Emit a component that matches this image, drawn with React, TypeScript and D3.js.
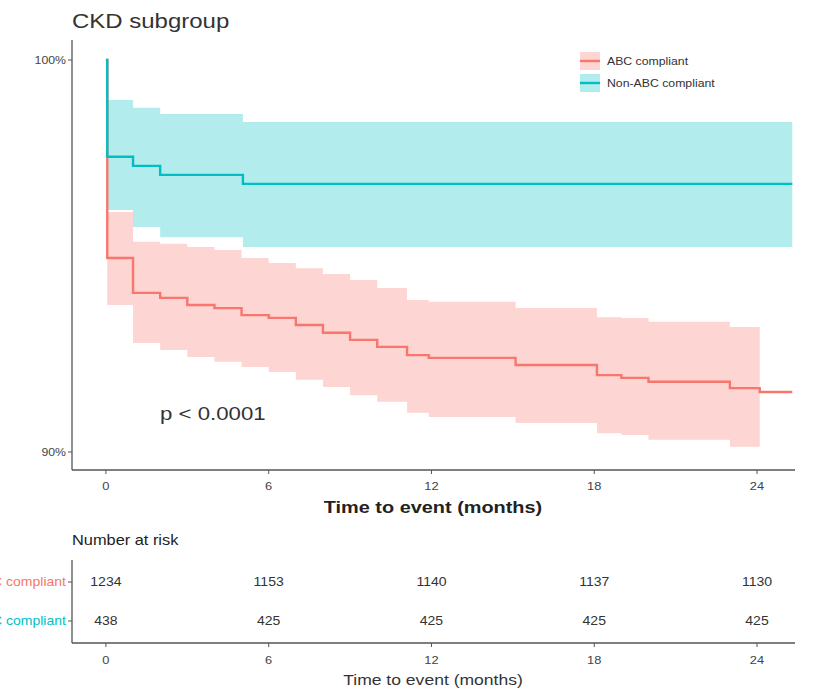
import React, { useEffect, useRef } from "react";
import * as d3 from "d3";

// strata
const groups = ["ABC compliant", "Non-ABC compliant"];
const colors = ["#F8766D", "#00BFC4"];

// axis ticks
const timeTicks = [0, 6, 12, 18, 24];
const survTicks = [90, 100];
const survTickLabels = ["90%", "100%"];

// ABC compliant curve (survival %, step after)
const abcTimes = [0, 0.05, 1, 2, 3, 4, 5, 6, 7, 8, 9, 10, 11.1, 11.9, 15.1, 18.1, 19, 20, 23, 24.1];
const abcSurv = [100, 94.95, 94.06, 93.93, 93.75, 93.67, 93.49, 93.42, 93.24, 93.04, 92.86, 92.68, 92.47, 92.4, 92.22, 91.96, 91.89, 91.79, 91.63, 91.53];
const abcUpper = [100, 96.12, 95.36, 95.31, 95.23, 95.15, 94.95, 94.82, 94.69, 94.54, 94.39, 94.18, 93.88, 93.83, 93.67, 93.44, 93.42, 93.32, 93.19, NaN];
const abcLower = [100, 93.75, 92.78, 92.6, 92.42, 92.3, 92.17, 92.04, 91.84, 91.66, 91.45, 91.28, 91.0, 90.89, 90.74, 90.48, 90.43, 90.31, 90.13, NaN];

// Non-ABC compliant curve
const nonTimes = [0, 0.05, 1, 2, 5.05];
const nonSurv = [100, 97.53, 97.3, 97.07, 96.84];
const nonUpper = [100, 98.98, 98.78, 98.62, 98.42];
const nonLower = [100, 96.17, 95.74, 95.48, 95.23];

const lastTime = 25.3;

// number at risk
const atRiskAbc = [1234, 1153, 1140, 1137, 1130];
const atRiskNon = [438, 425, 425, 425, 425];

const SX = 1.17; // the reference text is a little wide

const App = () => {
    const svgRef = useRef<SVGSVGElement>(null);

    useEffect(() => {
        const svg = d3.select(svgRef.current);
        svg.selectAll("*").remove();
        const font = "Liberation Sans, Arial, sans-serif";

        const text = (x: number, y: number, str: string, size: number, anchor = "start", fill = "#333", weight = "normal") =>
            svg.append("text")
                .attr("transform", `translate(${x},${y}) scale(${SX},1)`)
                .attr("text-anchor", anchor)
                .attr("font-family", font)
                .attr("font-size", size)
                .attr("font-weight", weight)
                .attr("fill", fill)
                .text(str);

        const xScale = d3.scaleLinear().domain([-1.25, 25.4]).range([72, 795]);
        const yScale = d3.scaleLinear().domain([89.54, 100.51]).range([470, 40]);

        const curves = [
            { times: abcTimes, surv: abcSurv, upper: abcUpper, lower: abcLower, bandEnd: 24.1 },
            { times: nonTimes, surv: nonSurv, upper: nonUpper, lower: nonLower, bandEnd: lastTime },
        ];

        // confidence bands
        curves.forEach((c, k) => {
            const pts = c.times.map((t, i) => ({ t, lo: c.lower[i], hi: c.upper[i] }))
                .filter((d) => !isNaN(d.lo));
            const last = pts[pts.length - 1];
            pts.push({ t: c.bandEnd, lo: last.lo, hi: last.hi });
            const area = d3.area<any>()
                .curve(d3.curveStepAfter)
                .x((d) => xScale(d.t))
                .y0((d) => yScale(d.lo))
                .y1((d) => yScale(d.hi));
            svg.append("path").attr("d", area(pts)).attr("fill", colors[k]).attr("opacity", 0.3);
        });

        // survival lines
        curves.forEach((c, k) => {
            const pts = c.times.map((t, i) => ({ t, s: c.surv[i] }));
            pts.push({ t: lastTime, s: c.surv[c.surv.length - 1] });
            const line = d3.line<any>()
                .curve(d3.curveStepAfter)
                .x((d) => xScale(d.t))
                .y((d) => yScale(d.s));
            svg.append("path").attr("d", line(pts)).attr("fill", "none")
                .attr("stroke", colors[k]).attr("stroke-width", 2.4);
        });

        // axes
        const axisColor = "#555";
        svg.append("line").attr("x1", 72).attr("x2", 72).attr("y1", 40).attr("y2", 470)
            .attr("stroke", axisColor).attr("stroke-width", 1.3);
        svg.append("line").attr("x1", 72).attr("x2", 795).attr("y1", 470).attr("y2", 470)
            .attr("stroke", axisColor).attr("stroke-width", 1.3);
        survTicks.forEach((v, i) => {
            svg.append("line").attr("x1", 68).attr("x2", 72).attr("y1", yScale(v)).attr("y2", yScale(v))
                .attr("stroke", axisColor);
            text(66, yScale(v) + 4, survTickLabels[i], 10.5, "end", "#444");
        });
        timeTicks.forEach((t) => {
            svg.append("line").attr("x1", xScale(t)).attr("x2", xScale(t)).attr("y1", 470).attr("y2", 474)
                .attr("stroke", axisColor);
            text(xScale(t), 490, String(t), 11, "middle", "#444");
        });
        text(433, 513, "Time to event (months)", 17, "middle", "#222", "bold");

        text(72, 28, "CKD subgroup", 20.5, "start", "#333");
        text(160, 420, "p < 0.0001", 19, "start", "#333");

        // legend
        groups.forEach((g, k) => {
            const cy = 61 + k * 22;
            svg.append("rect").attr("x", 580).attr("y", cy - 9).attr("width", 20).attr("height", 18)
                .attr("fill", colors[k]).attr("opacity", 0.3);
            svg.append("line").attr("x1", 580).attr("x2", 600).attr("y1", cy).attr("y2", cy)
                .attr("stroke", colors[k]).attr("stroke-width", 2.4);
            text(607, cy + 4, g, 10.5, "start", "#333");
        });

        // risk table
        text(72, 545, "Number at risk", 14, "start", "#222");
        const rowScale = d3.scalePoint().domain(groups).range([582, 621]);
        svg.append("line").attr("x1", 72).attr("x2", 72).attr("y1", 560).attr("y2", 643)
            .attr("stroke", axisColor).attr("stroke-width", 1.3);
        svg.append("line").attr("x1", 72).attr("x2", 795).attr("y1", 643).attr("y2", 643)
            .attr("stroke", axisColor).attr("stroke-width", 1.3);
        [atRiskAbc, atRiskNon].forEach((row, k) => {
            const y = rowScale(groups[k]) as number;
            svg.append("line").attr("x1", 68).attr("x2", 72).attr("y1", y).attr("y2", y).attr("stroke", axisColor);
            text(66, y + 4, groups[k], 12, "end", colors[k]);
            row.forEach((n, i) => text(xScale(timeTicks[i]), y + 4, String(n), 12, "middle", "#333"));
        });
        timeTicks.forEach((t) => {
            svg.append("line").attr("x1", xScale(t)).attr("x2", xScale(t)).attr("y1", 643).attr("y2", 647)
                .attr("stroke", axisColor);
            text(xScale(t), 664, String(t), 11, "middle", "#444");
        });
        text(433, 685, "Time to event (months)", 15, "middle", "#333");
    }, []);

    return (
        <svg ref={svgRef} width={815} height={694}
            style={{ position: "absolute", left: 0, top: 0, background: "#fff" }} />
    );
};

export default App;
